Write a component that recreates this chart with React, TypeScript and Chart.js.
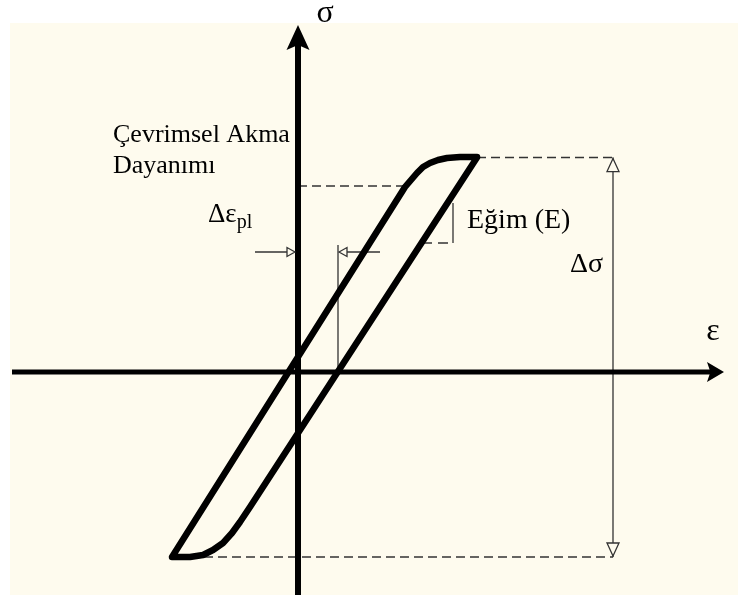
import React, { useEffect, useRef } from "react";
import { Chart, registerables } from "chart.js";

Chart.register(...registerables);

// Stabilised hysteresis loop: strain ε and stress σ (arbitrary units),
// traced from the upper tip down the unloading branch and back up.
const loopStrain = [8.95, -2.4, -2.9, -3.3, -3.75, -4.25, -4.75, -5.4, -6.3, 5.35, 5.65, 5.95, 6.25, 6.6, 7.0, 7.45, 8.1, 8.95];
const loopStress = [10.72, -6.75, -7.5, -8.05, -8.55, -8.9, -9.15, -9.25, -9.25, 9.25, 9.6, 9.95, 10.25, 10.45, 10.6, 10.7, 10.75, 10.75];

// Visible extent of the ε and σ axes (the far ends carry the arrowheads)
const strainAxis = [-14.3, 21.3];
const stressAxis = [-11.2, 17.35];

// Stress range Δσ
const stressPeak = 10.72;
const stressValley = -9.25;
const valleyStrain = -5.4;
const peakStrain = 8.95;
const deltaSigmaStrain = 15.75;

// Cyclic yield strength
const cyclicYieldStress = 9.3;
const cyclicYieldStrain = 5.35;

// Plastic strain range Δε_pl (between the two zero-stress crossings)
const plasticStrain = [0, 2.0];
const plasticMarkStress = 6.0;
const plasticMarkTop = 6.35;
const plasticArrowTails = [-2.15, 4.1];

// Slope triangle for the elastic modulus E
const slopeStrain = [6.2, 7.75];
const slopeStress = [6.45, 8.45];

// Text labels, anchored in data units
const labelTexts = ["σ", "ε", "Çevrimsel Akma", "Dayanımı", "Eğim (E)", "Δσ"];
const labelStrain = [1.35, 20.75, -9.25, -9.25, 8.45, 13.6];
const labelStress = [17.5, 1.6, 11.5, 9.95, 7.2, 5.0];
const labelSizes = [32, 32, 26, 26, 28, 28];
const labelAlign: CanvasTextAlign[] = ["center", "center", "left", "left", "left", "left"];
const deltaEpsLabel = { main: "Δε", sub: "pl", strain: -4.5, stress: 7.5 };

const INK = "#000000";
const THIN = "#333333";
const PAPER = "#FEFBEE";
const FONT = '"Liberation Serif", "Times New Roman", serif';

const seg = (x0: number, y0: number, x1: number, y1: number) => [
  { x: x0, y: y0 },
  { x: x1, y: y1 },
];

function filledArrow(ctx: CanvasRenderingContext2D, tx: number, ty: number, dx: number, dy: number, len: number, half: number) {
  const bx = tx - dx * len;
  const by = ty - dy * len;
  ctx.beginPath();
  ctx.moveTo(tx, ty);
  ctx.lineTo(bx - dy * half, by + dx * half);
  ctx.lineTo(bx + dx * len * 0.2, by + dy * len * 0.2);
  ctx.lineTo(bx + dy * half, by - dx * half);
  ctx.closePath();
  ctx.fillStyle = INK;
  ctx.fill();
}

function hollowArrow(ctx: CanvasRenderingContext2D, tx: number, ty: number, dx: number, dy: number, len: number, half: number) {
  const bx = tx - dx * len;
  const by = ty - dy * len;
  ctx.beginPath();
  ctx.moveTo(tx, ty);
  ctx.lineTo(bx - dy * half, by + dx * half);
  ctx.lineTo(bx + dy * half, by - dx * half);
  ctx.closePath();
  ctx.fillStyle = PAPER;
  ctx.fill();
  ctx.lineWidth = 1.3;
  ctx.strokeStyle = THIN;
  ctx.stroke();
}

const overlay = {
  id: "overlay",
  afterDatasetsDraw(chart: Chart) {
    const { ctx } = chart;
    const xs = chart.scales.x;
    const ys = chart.scales.y;
    const px = (v: number) => xs.getPixelForValue(v);
    const py = (v: number) => ys.getPixelForValue(v);
    ctx.save();

    // axis arrowheads
    filledArrow(ctx, px(0), py(stressAxis[1]), 0, -1, 25, 11.5);
    filledArrow(ctx, px(strainAxis[1]), py(0), 1, 0, 17, 10);

    // Δσ dimension arrows
    hollowArrow(ctx, px(deltaSigmaStrain), py(stressPeak) + 1, 0, -1, 13, 6);
    hollowArrow(ctx, px(deltaSigmaStrain), py(stressValley) - 1, 0, 1, 13, 6);

    // Δε_pl arrows pointing at the two crossings
    hollowArrow(ctx, px(plasticStrain[0]) - 3, py(plasticMarkStress), 1, 0, 8, 4.5);
    hollowArrow(ctx, px(plasticStrain[1]) + 1, py(plasticMarkStress), -1, 0, 8, 4.5);

    // labels
    ctx.fillStyle = INK;
    ctx.textBaseline = "alphabetic";
    labelTexts.forEach((t, i) => {
      ctx.font = `${labelSizes[i]}px ${FONT}`;
      ctx.textAlign = labelAlign[i];
      ctx.fillText(t, px(labelStrain[i]), py(labelStress[i]));
    });

    ctx.textAlign = "left";
    ctx.font = `27px ${FONT}`;
    const lx = px(deltaEpsLabel.strain);
    const ly = py(deltaEpsLabel.stress);
    ctx.fillText(deltaEpsLabel.main, lx, ly);
    const w = ctx.measureText(deltaEpsLabel.main).width;
    ctx.font = `20px ${FONT}`;
    ctx.fillText(deltaEpsLabel.sub, lx + w, ly + 6);

    ctx.restore();
  },
};

export default function App() {
  const ref = useRef<HTMLCanvasElement | null>(null);

  useEffect(() => {
    if (!ref.current) return;
    const dashed = { borderColor: THIN, borderWidth: 1.5, borderDash: [9, 5], pointRadius: 0 };
    const thin = { borderColor: THIN, borderWidth: 1.3, pointRadius: 0 };

    const chart = new Chart(ref.current, {
      type: "scatter",
      data: {
        datasets: [
          {
            label: "loop",
            data: loopStrain.map((x, i) => ({ x, y: loopStress[i] })),
            showLine: true,
            borderColor: INK,
            borderWidth: 6.5,
            borderJoinStyle: "round",
            borderCapStyle: "round",
            pointRadius: 0,
            tension: 0,
          },
          {
            label: "ε axis",
            data: seg(strainAxis[0], 0, strainAxis[1] - 0.6, 0),
            showLine: true,
            borderColor: INK,
            borderWidth: 5,
            pointRadius: 0,
          },
          {
            label: "σ axis",
            data: seg(0, stressAxis[0], 0, stressAxis[1] - 1),
            showLine: true,
            borderColor: INK,
            borderWidth: 6,
            pointRadius: 0,
          },
          { label: "cyclic yield", data: seg(0, cyclicYieldStress, cyclicYieldStrain, cyclicYieldStress), showLine: true, ...dashed },
          { label: "peak", data: seg(peakStrain, stressPeak, deltaSigmaStrain, stressPeak), showLine: true, ...dashed },
          { label: "valley", data: seg(valleyStrain, stressValley, deltaSigmaStrain, stressValley), showLine: true, ...dashed },
          { label: "Δσ", data: seg(deltaSigmaStrain, stressPeak, deltaSigmaStrain, stressValley), showLine: true, ...thin },
          { label: "Δε mark", data: seg(plasticStrain[1], plasticMarkTop, plasticStrain[1], 0), showLine: true, ...thin },
          { label: "Δε left", data: seg(plasticArrowTails[0], plasticMarkStress, plasticStrain[0] - 0.4, plasticMarkStress), showLine: true, ...thin },
          { label: "Δε right", data: seg(plasticArrowTails[1], plasticMarkStress, plasticStrain[1] + 0.4, plasticMarkStress), showLine: true, ...thin },
          { label: "slope rise", data: seg(slopeStrain[1], slopeStress[1], slopeStrain[1], slopeStress[0]), showLine: true, ...thin },
          { label: "slope run", data: seg(slopeStrain[0], slopeStress[0], slopeStrain[1], slopeStress[0]), showLine: true, ...dashed, borderDash: [10, 6] },
        ],
      },
      options: {
        animation: false,
        responsive: false,
        events: [],
        layout: { padding: 0 },
        plugins: { legend: { display: false }, tooltip: { enabled: false } },
        scales: {
          x: { type: "linear", min: -14.9, max: 22.0, display: false },
          y: { type: "linear", min: -11.15, max: 18.6, display: false },
        },
      },
      plugins: [overlay],
    });
    return () => chart.destroy();
  }, []);

  return (
    <div style={{ position: "absolute", left: 0, top: 0, width: 738, height: 595, background: "#FFFFFF" }}>
      <div style={{ position: "absolute", left: 10, top: 23, width: 728, height: 572, background: PAPER }} />
      <canvas ref={ref} width={738} height={595} style={{ position: "absolute", left: 0, top: 0, width: 738, height: 595 }} />
    </div>
  );
}
